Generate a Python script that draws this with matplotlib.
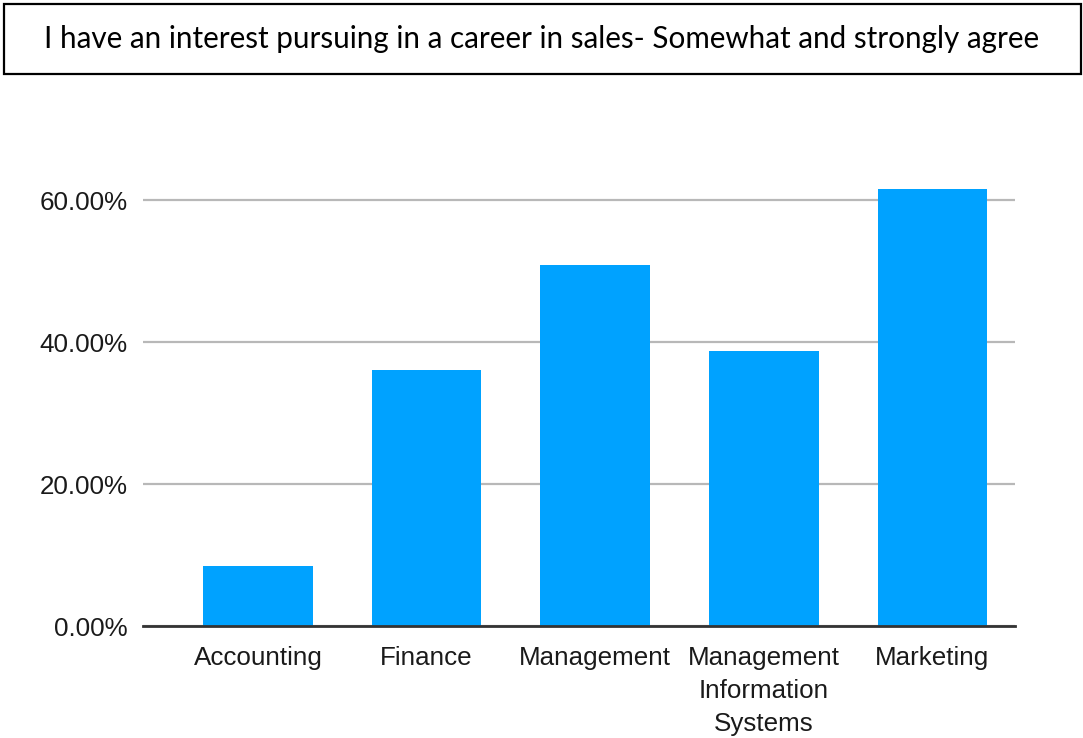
import matplotlib
matplotlib.use("Agg")
import matplotlib.pyplot as plt
from matplotlib.patches import Rectangle
from matplotlib.ticker import FuncFormatter

categories = ["Accounting", "Finance", "Management",
              "Management\nInformation\nSystems", "Marketing"]
agree_share = [0.084, 0.360, 0.509, 0.388, 0.615]
y_ticks = [0.0, 0.2, 0.4, 0.6]

title = "I have an interest pursuing in a career in sales- Somewhat and strongly agree"

W, H, DPI = 1083, 738, 100
fig = plt.figure(figsize=(W / DPI, H / DPI), dpi=DPI)
fig.patch.set_facecolor("white")

# Boxed heading across the top
fig.patches.append(Rectangle((4 / W, 1 - 74 / H), (1081 - 4) / W, 70 / H,
                             transform=fig.transFigure, fill=False,
                             edgecolor="black", linewidth=1.6))
fig.text(0.5, 1 - 39 / H, title, ha="center", va="center",
         fontsize=21.3, family="Lato", color="black")

ax = fig.add_axes([143 / W, 1 - 626 / H, (1015 - 143) / W, (626 - 164.5) / H])
x = list(range(len(categories)))
ax.bar(x, agree_share, width=0.65, color="#00a2ff", zorder=3)

ax.set_ylim(0, 0.65)
ax.set_xlim(-0.682, 4.49)
ax.set_yticks(y_ticks)
ax.yaxis.set_major_formatter(FuncFormatter(lambda v, _: f"{v * 100:.2f}%"))
ax.set_xticks(x)
ax.set_xticklabels(categories, ha="center", linespacing=1.47)

for s in ["top", "right", "left"]:
    ax.spines[s].set_visible(False)
ax.spines["bottom"].set_color("#333333")
ax.spines["bottom"].set_linewidth(2)
ax.spines["bottom"].set_zorder(4)

ax.grid(axis="y", color="#b8b8b8", linewidth=1.6, zorder=0)
ax.tick_params(axis="both", length=0, labelsize=18.7, colors="#1a1a1a",
               labelfontfamily="Liberation Sans")
ax.tick_params(axis="y", pad=11)
ax.tick_params(axis="x", pad=14.5)

fig.savefig("out.png", dpi=DPI)
